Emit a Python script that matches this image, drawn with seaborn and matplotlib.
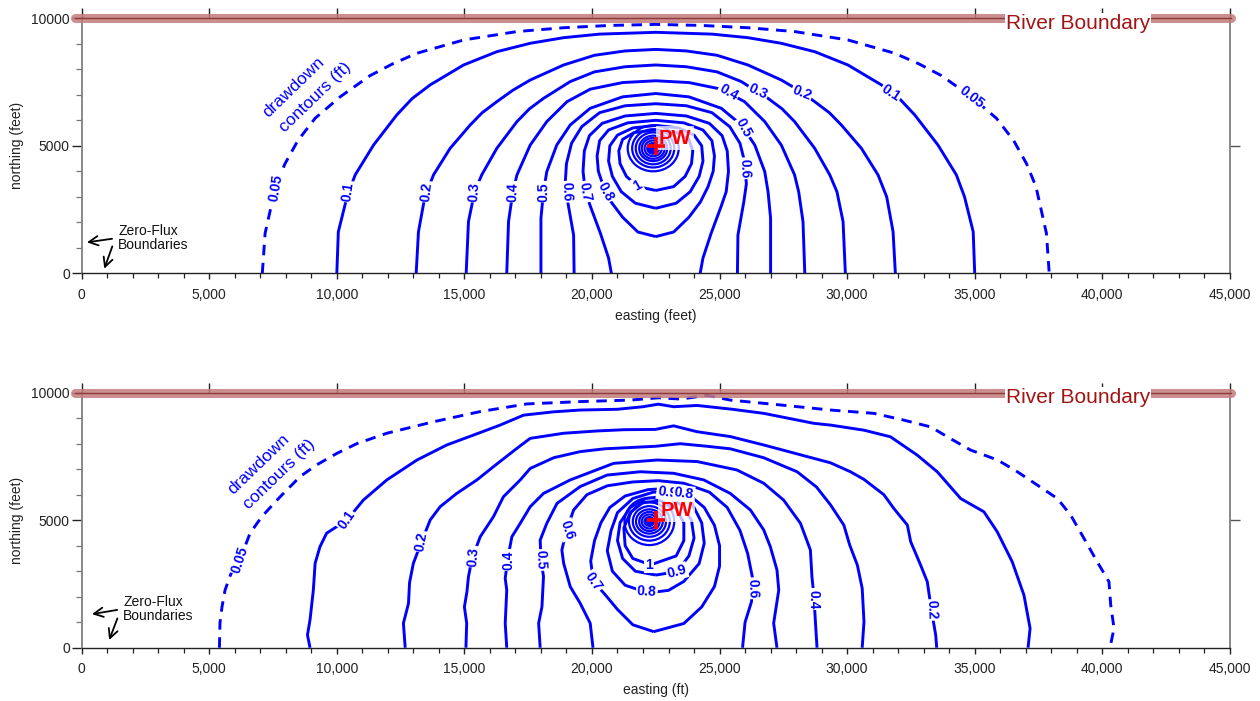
import numpy as np
import pandas as pd
import matplotlib
matplotlib.use("Agg")
import matplotlib.pyplot as plt
from matplotlib.patches import Ellipse
from matplotlib.ticker import MultipleLocator, FuncFormatter, FixedLocator
import seaborn as sns

# all coordinates below are in thousands of feet (easting, northing)
well_e, well_n = 22.5, 5.0

# ---- top panel (homogeneous): half profiles (distance from well easting, northing)
top_c005 = [(15.42, 0), (15.31, 1.57), (14.9, 3.4), (14.53, 4.3), (14.03, 5.2), (13.35, 6.08), (12.37, 6.92),
            (11.2, 7.75), (10.3, 8.22), (9.36, 8.63), (7.53, 9.15), (5.44, 9.48), (3.61, 9.63), (1.8, 9.72),
            (0, 9.76)]
top_c01 = [(12.5, 0), (12.44, 1.63), (12.1, 3.0), (11.78, 3.86), (11.06, 5.03), (10.15, 6.21), (9.55, 6.85),
           (8.84, 7.39), (7.53, 8.17), (6.23, 8.69), (4.92, 9.02), (3.61, 9.24), (2.2, 9.38), (0, 9.45)]
top_c02 = [(9.39, 0), (9.3, 1.63), (9.05, 3.0), (8.71, 3.86), (8.06, 4.9), (7.27, 5.82), (6.8, 6.3),
           (6.23, 6.73), (5.6, 7.18), (4.92, 7.58), (3.61, 8.17), (2.4, 8.55), (1.2, 8.72), (0, 8.78)]
top_c03 = [(7.43, 0), (7.34, 2.03), (7.1, 3.2), (6.82, 3.86), (6.23, 4.9), (5.44, 5.95), (4.95, 6.45),
           (4.4, 6.86), (3.35, 7.52), (2.4, 7.9), (1.2, 8.1), (0, 8.17)]
top_c04 = [(5.84, 0), (5.77, 2.03), (5.6, 3.2), (5.44, 3.86), (4.92, 5.03), (4.27, 5.95), (3.48, 6.73),
           (2.57, 7.22), (1.3, 7.48), (0, 7.55)]
top_c05 = [(4.5, 0), (4.5, 2.16), (4.4, 3.2), (4.27, 3.99), (3.88, 5.03), (3.35, 5.82), (2.57, 6.47),
           (1.3, 6.92), (0, 7.05)]
top_c06 = [(3.2, 0), (3.22, 1.5), (3.45, 2.8), (3.55, 3.5), (3.5, 4.3), (3.3, 5.1), (2.9, 5.75),
           (2.2, 6.3), (1.2, 6.57), (0, 6.65)]
top_c07 = [(1.74, 0), (1.85, 0.6), (2.17, 1.57), (2.56, 2.62), (2.76, 3.2), (2.85, 4.0), (2.8, 4.8),
           (2.6, 5.4), (2.1, 5.88), (1.2, 6.17), (0, 6.27)]
top_c08 = [(0, 1.44), (0.7, 1.62), (1.3, 2.2), (1.75, 2.8), (2.05, 3.4), (2.25, 4.0), (2.3, 4.6),
           (2.2, 5.2), (1.85, 5.62), (1.1, 5.9), (0, 6.0)]
top_c09 = [(0, 2.55), (0.8, 2.75), (1.35, 3.2), (1.7, 3.8), (1.85, 4.4), (1.8, 5.0), (1.5, 5.42),
           (0.9, 5.7), (0, 5.8)]
top_c10 = [(0, 3.25), (0.7, 3.4), (1.15, 3.8), (1.4, 4.3), (1.45, 4.8), (1.3, 5.25), (0.85, 5.52), (0, 5.62)]

# rings closer to the well (> 1 ft)
top_ring_w = [2.0, 1.65, 1.37, 1.1, 0.9, 0.68]
top_ring_h = [1.8, 1.5, 1.25, 1.0, 0.82, 0.62]
top_ring_center = (22.4, 4.9)
top_core = 0.5

top_labels = [("0.05", 7.6, 3.35, 80), ("0.1", 10.45, 3.2, 82), ("0.2", 13.5, 3.2, 84),
              ("0.3", 15.4, 3.2, 86), ("0.4", 16.9, 3.2, 88), ("0.5", 18.1, 3.2, 89),
              ("0.6", 19.0, 3.2, -88), ("0.7", 19.74, 3.2, -80), ("0.8", 20.55, 3.2, -62),
              ("1", 21.78, 3.45, 30), ("0.6", 26.0, 4.12, -88), ("0.5", 25.94, 5.69, -62),
              ("0.4", 25.35, 7.1, -30), ("0.3", 26.5, 7.12, -25), ("0.2", 28.22, 7.06, -22),
              ("0.1", 31.71, 7.06, -33), ("0.05", 34.87, 6.9, -38)]

# ---- bottom panel (heterogeneous): full contour traces
bot_c005 = [(5.4, 0), (5.42, 0.96), (5.5, 1.6), (5.62, 2.26), (5.85, 2.9), (6.2, 3.44), (6.6, 4.49),
            (7.06, 5.14), (7.78, 5.92), (8.56, 6.71), (9.21, 7.17), (10.0, 7.62), (10.78, 8.0),
            (11.96, 8.41), (13.79, 8.86), (15.62, 9.26), (17.45, 9.56), (19.5, 9.65), (21.5, 9.71),
            (22.6, 9.8), (23.5, 9.75), (24.5, 9.9), (25.42, 9.71), (27.38, 9.52), (29.35, 9.32),
            (31.05, 9.19), (32.2, 8.93), (33.27, 8.66), (34.05, 8.2), (34.84, 7.75), (35.9, 7.36),
            (36.67, 6.9), (37.45, 6.38), (38.24, 5.85), (38.76, 5.2), (39.28, 4.29), (39.8, 3.37),
            (40.26, 2.59), (40.33, 1.67), (40.46, 0.76), (40.3, 0)]
bot_c01 = [(8.95, 0), (8.85, 0.5), (8.95, 1.09), (9.08, 2.26), (9.15, 3.31), (9.34, 3.96), (9.6, 4.49),
           (10.0, 4.75), (10.39, 5.0), (11.04, 5.79), (11.96, 6.58), (13.14, 7.36), (14.31, 7.95),
           (15.36, 8.34), (16.4, 8.73), (17.32, 9.12), (18.5, 9.25), (19.54, 9.32), (21.0, 9.35),
           (22.0, 9.45), (22.6, 9.55), (23.2, 9.45), (24.12, 9.5), (25.5, 9.35), (26.73, 9.19),
           (28.69, 8.8), (29.35, 8.73), (30.66, 8.53), (31.7, 8.27), (32.75, 7.55), (33.53, 6.9),
           (34.45, 5.85), (35.36, 5.33), (35.88, 4.55), (36.47, 3.37), (36.93, 2.06), (37.17, 0.76),
           (37.09, 0)]
bot_c02 = [(12.68, 0), (12.61, 0.96), (12.81, 1.74), (12.85, 2.55), (13.0, 3.31), (13.3, 4.1), (13.66, 5.01),
           (14.05, 5.53), (14.7, 6.05), (15.49, 6.58), (16.14, 7.1), (17.06, 7.82), (17.58, 8.21),
           (18.89, 8.41), (20.2, 8.5), (21.3, 8.55), (22.48, 8.56), (23.2, 8.7), (24.12, 8.47),
           (25.42, 8.28), (26.73, 7.95), (28.04, 7.6), (29.35, 7.25), (30.13, 6.9), (30.66, 6.6),
           (31.44, 6.0), (31.83, 5.46), (32.36, 4.81), (32.49, 4.16), (32.88, 3.24), (33.14, 2.59),
           (33.3, 1.5), (33.47, 0.5), (33.51, 0)]
bot_c03 = [(15.06, 0), (15.09, 0.96), (15.0, 1.6), (15.1, 2.2), (15.16, 2.79), (15.3, 3.5), (15.62, 4.35),
           (16.14, 5.14), (16.53, 5.92), (17.19, 6.58), (17.58, 7.03), (18.5, 7.45), (19.54, 7.69),
           (20.5, 7.8), (21.5, 7.85), (22.5, 7.9), (23.46, 8.0), (24.5, 7.9), (25.42, 7.8), (26.73, 7.45),
           (28.04, 6.9), (28.8, 6.3), (29.35, 5.6), (29.87, 4.81), (30.1, 4.03), (30.4, 3.24),
           (30.59, 2.33), (30.66, 1.02), (30.59, 0)]
bot_c04 = [(16.66, 0), (16.6, 0.96), (16.66, 2.26), (16.6, 2.72), (16.7, 3.5), (16.86, 4.35), (17.19, 4.88),
           (17.58, 5.53), (18.1, 6.05), (19.15, 6.58), (20.85, 7.23), (22.55, 7.36), (24.12, 7.3),
           (25.68, 6.97), (26.73, 6.45), (27.51, 5.79), (28.17, 4.88), (28.56, 3.83), (28.62, 2.79),
           (28.7, 2.0), (28.76, 0.96), (28.82, 0)]
bot_c05 = [(17.97, 0), (17.91, 0.96), (18.04, 1.61), (18.1, 2.79), (18.0, 3.5), (17.97, 4.22), (18.23, 4.88),
           (18.63, 5.66), (19.54, 6.32), (20.59, 6.77), (21.89, 6.9), (23.2, 6.84), (24.38, 6.58),
           (25.42, 6.05), (26.21, 5.4), (26.73, 4.62), (26.99, 3.96), (27.25, 3.05), (27.32, 2.26),
           (27.12, 0.96), (27.25, 0)]
bot_c06 = [(20.04, 0), (19.93, 0.96), (19.54, 1.74), (19.15, 2.39), (18.89, 3.31), (18.82, 3.83), (19.0, 4.6),
           (19.28, 5.4), (19.8, 6.0), (20.6, 6.35), (21.6, 6.5), (22.6, 6.55), (23.6, 6.45), (24.6, 6.1),
           (25.3, 5.5), (25.8, 4.6), (26.1, 3.7), (26.3, 2.7), (26.25, 1.8), (26.0, 1.0), (25.9, 0)]
bot_c07 = [(22.42, 0.63), (21.6, 0.9), (21.0, 1.5), (20.5, 2.1), (20.06, 2.59), (19.95, 3.4), (20.1, 4.2),
           (20.35, 4.9), (20.7, 5.5), (21.3, 5.95), (22.2, 6.2), (23.0, 6.25), (23.8, 6.0), (24.4, 5.5),
           (24.8, 4.8), (25.0, 4.0), (25.0, 3.2), (24.8, 2.4), (24.3, 1.6), (23.6, 0.95), (22.42, 0.63)]
bot_c08 = [(22.2, 2.15), (21.3, 2.45), (20.8, 3.0), (20.6, 3.8), (20.75, 4.6), (21.0, 5.3), (21.6, 5.85),
           (22.4, 6.1), (23.2, 6.12), (23.9, 5.7), (24.3, 4.9), (24.4, 4.1), (24.2, 3.3), (23.6, 2.6),
           (23.0, 2.25), (22.2, 2.15)]
bot_c09 = [(22.5, 2.85), (21.7, 3.0), (21.2, 3.5), (21.0, 4.2), (21.1, 4.9), (21.5, 5.5), (22.1, 5.85),
           (22.9, 5.95), (23.5, 5.6), (23.9, 5.0), (24.0, 4.3), (23.8, 3.6), (23.33, 2.98), (22.5, 2.85)]
bot_c10 = [(22.3, 3.25), (21.6, 3.5), (21.3, 4.0), (21.25, 4.7), (21.5, 5.3), (22.0, 5.7), (22.7, 5.75),
           (23.3, 5.45), (23.6, 4.9), (23.6, 4.2), (23.3, 3.6), (22.3, 3.25)]

bot_ring_w = [1.95, 1.6, 1.3, 1.05, 0.8, 0.6]
bot_ring_h = [1.85, 1.5, 1.2, 0.95, 0.75, 0.55]
bot_ring_center = (22.25, 4.95)
bot_core = 0.42

bot_labels = [("0.05", 6.2, 3.44, 72), ("0.1", 10.39, 5.0, 55), ("0.2", 13.32, 4.16, 80),
              ("0.3", 15.36, 3.57, 85), ("0.4", 16.73, 3.44, 90), ("0.5", 17.99, 3.44, -88),
              ("0.6", 19.02, 4.62, -72), ("0.7", 20.06, 2.59, -55), ("0.8", 22.15, 2.2, -3),
              ("0.9", 23.33, 2.98, 15), ("1", 22.25, 3.24, 0), ("0.6", 26.3, 2.33, -88),
              ("0.4", 28.7, 1.9, -90), ("0.2", 33.3, 1.48, -88), ("0.9", 22.95, 6.1, -8),
              ("0.8", 23.6, 6.05, -8)]

xticks_ft = list(range(0, 45001, 5000))
yticks_ft = [0, 5000, 10000]

BLUE = "#0000ff"


def mirror(half):
    left = [(well_e - dx, n) for dx, n in half]
    right = [(well_e + dx, n) for dx, n in reversed(half[:-1])]
    return left + right


def draw_panel(ax, solid, dashed, ring_c, ring_w, ring_h, core, labels, dd_pos, zf, xlabel, pw_pos):
    rows = []
    for cid, pts in enumerate(solid):
        for e, n in pts:
            rows.append((cid, e * 1000, n * 1000))
    df = pd.DataFrame(rows, columns=["cid", "easting", "northing"])
    sns.lineplot(data=df, x="easting", y="northing", units="cid", estimator=None, sort=False,
                 color=BLUE, lw=2.1, legend=False, solid_joinstyle="round", solid_capstyle="butt", ax=ax)
    dd = pd.DataFrame([(e * 1000, n * 1000) for e, n in dashed], columns=["easting", "northing"])
    sns.lineplot(data=dd, x="easting", y="northing", estimator=None, sort=False,
                 color=BLUE, lw=2.1, legend=False, ax=ax)
    ax.lines[-1].set_dashes([3.6, 2.6])

    for w, h in zip(ring_w, ring_h):
        ax.add_patch(Ellipse((ring_c[0] * 1000, ring_c[1] * 1000), w * 1000, h * 1000,
                             fill=False, ec=BLUE, lw=1.6, zorder=3))
    ax.add_patch(Ellipse((ring_c[0] * 1000, ring_c[1] * 1000), core * 1000, core * 0.9 * 1000,
                         fc=BLUE, ec=BLUE, lw=1, zorder=3))

    for txt, e, n, rot in labels:
        ax.text(e * 1000, n * 1000, txt, rotation=rot, rotation_mode="anchor", ha="center", va="center",
                color=BLUE, fontsize=10, fontweight="bold", zorder=4,
                bbox=dict(boxstyle="square,pad=0.08", fc="white", ec="none"))

    # well
    ax.text(pw_pos[0] * 1000, pw_pos[1] * 1000, "PW", color="red", fontsize=14.5, fontweight="bold",
            ha="left", va="center", zorder=6,
            bbox=dict(boxstyle="square,pad=0.12", fc="white", ec="none", alpha=0.75))
    ax.plot(well_e * 1000, well_n * 1000, marker="+", color="red", ms=13, mew=2.6, zorder=7)

    # drawdown note
    for txt, e, n in dd_pos:
        ax.text(e * 1000, n * 1000, txt, rotation=44, rotation_mode="anchor", ha="center", va="center",
                color=BLUE, fontsize=12.5, zorder=4)

    # zero-flux note
    ax.text(zf[0] * 1000, zf[1] * 1000, "Zero-Flux\nBoundaries", fontsize=10, ha="left", va="center",
            linespacing=1.05, color="#111111")
    for tail, tip in zf[2]:
        ax.annotate("", xy=(tip[0] * 1000, tip[1] * 1000), xytext=(tail[0] * 1000, tail[1] * 1000),
                    arrowprops=dict(arrowstyle="->,head_length=0.55,head_width=0.28", color="black", lw=1.3))

    # river
    ax.plot([-250, 45050], [10000, 10000], color="#c47b7b", lw=6.5, alpha=0.85, solid_capstyle="round",
            clip_on=False, zorder=8)
    ax.plot([-250, 45050], [10000, 10000], color="#8c3a3a", lw=1.0, clip_on=False, zorder=8)
    ax.text(39050, 9800, "River Boundary", color="#a01414", fontsize=15, ha="center", va="center", zorder=9,
            bbox=dict(boxstyle="square,pad=0.05", fc="white", ec="none"))

    # axes cosmetics
    ax.set_xlim(0, 45000)
    ax.set_ylim(0, 10000)
    ax.set_xlabel(xlabel, fontsize=10, labelpad=5, color="#222222")
    ax.set_ylabel("northing (feet)", fontsize=10, labelpad=5, color="#222222")
    ax.xaxis.set_major_locator(FixedLocator(xticks_ft))
    ax.xaxis.set_minor_locator(MultipleLocator(1000))
    ax.xaxis.set_major_formatter(FuncFormatter(lambda v, p: f"{int(v):,}"))
    ax.yaxis.set_major_locator(FixedLocator(yticks_ft))
    ax.yaxis.set_minor_locator(MultipleLocator(1000))
    ax.yaxis.set_major_formatter(FuncFormatter(lambda v, p: f"{int(v)}"))
    ax.tick_params(axis="x", which="major", direction="out", length=4.5, width=1, pad=6, labelsize=10,
                   colors="#222222")
    ax.tick_params(axis="x", which="minor", direction="out", length=3.5, width=0.9, color="#222222")
    ax.tick_params(axis="y", which="major", direction="out", length=7, width=1, pad=1.5, labelsize=10,
                   colors="#222222")
    ax.tick_params(axis="y", which="minor", direction="out", length=4.5, width=0.9, color="#777777")
    ax.spines["left"].set_color("#808080")
    ax.spines["left"].set_linewidth(1.3)
    ax.spines["bottom"].set_color("#222222")
    ax.spines["bottom"].set_linewidth(1.0)
    ax.spines["top"].set_visible(False)
    ax.spines["right"].set_visible(True)
    ax.spines["right"].set_color("#808080")
    ax.spines["right"].set_linewidth(1.3)

    top = ax.secondary_xaxis("top")
    top.set_xticks(xticks_ft)
    top.tick_params(axis="x", direction="out", length=7, width=1, labeltop=False, color="#222222")
    top.spines["top"].set_visible(False)
    right = ax.secondary_yaxis("right")
    right.set_yticks([5000])
    right.tick_params(axis="y", direction="out", length=7, width=1, labelright=False, color="#555555")
    right.spines["right"].set_visible(False)


sns.set_theme(style="ticks")
plt.rcParams["font.family"] = ["Liberation Sans", "DejaVu Sans"]

fig = plt.figure(figsize=(12.6, 7.01), dpi=100)
ax1 = fig.add_axes([0.0648, 0.6101, 0.9113, 0.3638])
ax2 = fig.add_axes([0.0648, 0.0760, 0.9113, 0.3638])

top_solid = [mirror(c) for c in [top_c01, top_c02, top_c03, top_c04, top_c05, top_c06, top_c07,
                                  top_c08, top_c09, top_c10]]
draw_panel(ax1, top_solid, mirror(top_c005), top_ring_center, top_ring_w, top_ring_h, top_core, top_labels,
           [("drawdown", 8.32, 7.29), ("contours (ft)", 9.15, 6.9)],
           (1.43, 1.38, [((1.3, 1.37), (0.1, 1.2)), ((1.24, 1.16), (0.85, 0.08))]),
           "easting (feet)", (22.62, 5.3))

bot_solid = [bot_c01, bot_c02, bot_c03, bot_c04, bot_c05, bot_c06, bot_c07, bot_c08, bot_c09, bot_c10]
draw_panel(ax2, bot_solid, bot_c005, bot_ring_center, bot_ring_w, bot_ring_h, bot_core, bot_labels,
           [("drawdown", 6.95, 7.19), ("contours (ft)", 7.74, 6.81)],
           (1.63, 1.52, [((1.5, 1.5), (0.3, 1.3)), ((1.44, 1.25), (1.04, 0.2))]),
           "easting (ft)", (22.68, 5.4))

fig.savefig("out.png", dpi=100)
